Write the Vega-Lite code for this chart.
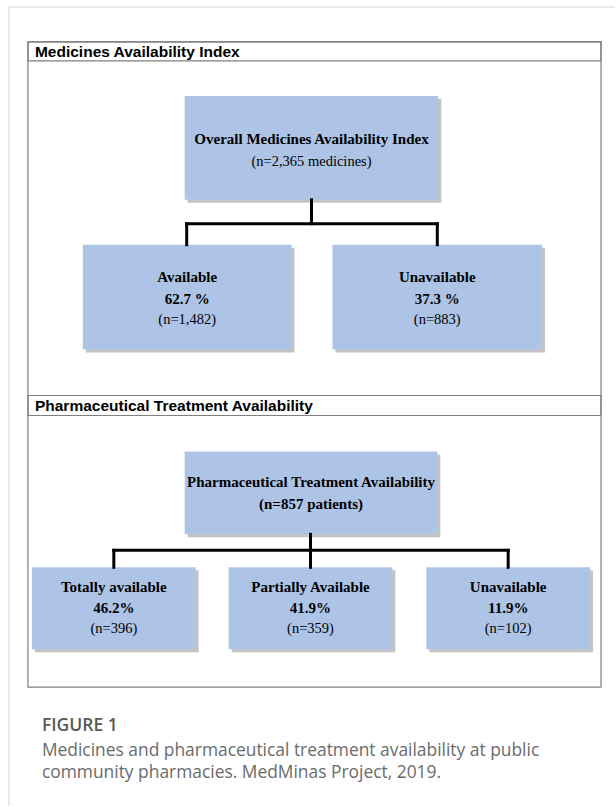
{
  "$schema": "https://vega.github.io/schema/vega-lite/v6.json",
  "width": 616,
  "height": 807,
  "autosize": {"type": "fit", "contains": "padding"},
  "padding": 0,
  "background": "white",
  "view": {"stroke": null},
  "datasets": {
    "frame": [
      {"x": 9, "y": 7, "x2": 616, "y2": 7},
      {"x": 9, "y": 7, "x2": 9, "y2": 807}
    ],
    "panels": [
      {"panel": "Medicines Availability Index", "part": "body", "x": 28, "x2": 602, "y": 42, "y2": 396},
      {"panel": "Medicines Availability Index", "part": "header", "x": 28, "x2": 602, "y": 42, "y2": 61},
      {"panel": "Pharmaceutical Treatment Availability", "part": "body", "x": 28, "x2": 602, "y": 396, "y2": 688},
      {"panel": "Pharmaceutical Treatment Availability", "part": "header", "x": 28, "x2": 602, "y": 396, "y2": 416}
    ],
    "nodes": [
      {"node": "Overall Medicines Availability Index", "x": 185, "x2": 439, "y": 96, "y2": 200},
      {"node": "Available", "x": 83, "x2": 292, "y": 245, "y2": 350},
      {"node": "Unavailable (medicines)", "x": 333, "x2": 543, "y": 245, "y2": 350},
      {"node": "Pharmaceutical Treatment Availability", "x": 185, "x2": 438, "y": 452, "y2": 535},
      {"node": "Totally available", "x": 32, "x2": 196, "y": 568, "y2": 650},
      {"node": "Partially Available", "x": 229, "x2": 393, "y": 568, "y2": 650},
      {"node": "Unavailable (treatment)", "x": 427, "x2": 591, "y": 568, "y2": 650}
    ],
    "links": [
      {"x": 312, "y": 200, "x2": 312, "y2": 224},
      {"x": 187, "y": 224, "x2": 438, "y2": 224},
      {"x": 187, "y": 224, "x2": 187, "y2": 245},
      {"x": 438, "y": 224, "x2": 438, "y2": 245},
      {"x": 311, "y": 535, "x2": 311, "y2": 568},
      {"x": 114, "y": 551, "x2": 509, "y2": 551},
      {"x": 114, "y": 551, "x2": 114, "y2": 568},
      {"x": 509, "y": 551, "x2": 509, "y2": 568}
    ],
    "texts": [
      {"role": "header", "text": "Medicines Availability Index", "x": 35, "y": 52},
      {"role": "header", "text": "Pharmaceutical Treatment Availability", "x": 35, "y": 406.5},
      {"role": "name", "text": "Overall Medicines Availability Index", "x": 312, "y": 139},
      {"role": "count", "text": "(n=2,365 medicines)", "x": 312, "y": 162},
      {"role": "name", "text": "Available", "x": 187.5, "y": 277},
      {"role": "name", "text": "62.7 %", "x": 187.5, "y": 299},
      {"role": "count", "text": "(n=1,482)", "x": 187.5, "y": 320},
      {"role": "name", "text": "Unavailable", "x": 438, "y": 277},
      {"role": "name", "text": "37.3 %", "x": 438, "y": 299},
      {"role": "count", "text": "(n=883)", "x": 438, "y": 320},
      {"role": "name", "text": "Pharmaceutical Treatment Availability", "x": 311.5, "y": 483},
      {"role": "name", "text": "(n=857 patients)", "x": 311.5, "y": 505},
      {"role": "name", "text": "Totally available", "x": 114, "y": 588},
      {"role": "name", "text": "46.2%", "x": 114, "y": 609},
      {"role": "count", "text": "(n=396)", "x": 114, "y": 630},
      {"role": "name", "text": "Partially Available", "x": 311, "y": 588},
      {"role": "name", "text": "41.9%", "x": 311, "y": 609},
      {"role": "count", "text": "(n=359)", "x": 311, "y": 630},
      {"role": "name", "text": "Unavailable", "x": 509, "y": 588},
      {"role": "name", "text": "11.9%", "x": 509, "y": 609},
      {"role": "count", "text": "(n=102)", "x": 509, "y": 630},
      {"role": "figure", "text": "FIGURE 1", "x": 42, "y": 727},
      {"role": "caption", "text": "Medicines and pharmaceutical treatment availability at public", "x": 42, "y": 752},
      {"role": "caption", "text": "community pharmacies. MedMinas Project, 2019.", "x": 42, "y": 774}
    ]
  },
  "encoding": {
    "x": {"field": "x", "type": "quantitative", "scale": {"domain": [0, 616], "nice": false, "zero": false}, "axis": null},
    "y": {"field": "y", "type": "quantitative", "scale": {"domain": [0, 807], "reverse": true, "nice": false, "zero": false}, "axis": null}
  },
  "layer": [
    {
      "data": {"name": "frame"},
      "mark": {"type": "rule", "color": "#d2d2d2", "strokeWidth": 1},
      "encoding": {"x2": {"field": "x2"}, "y2": {"field": "y2"}}
    },
    {
      "data": {"name": "panels"},
      "mark": {"type": "rect", "fill": "white", "fillOpacity": 0, "stroke": "#7f7f7f", "strokeWidth": 1.2},
      "encoding": {"x2": {"field": "x2"}, "y2": {"field": "y2"}}
    },
    {
      "data": {"name": "nodes"},
      "mark": {"type": "rect", "fill": "#8a8a8a", "opacity": 0.5, "xOffset": 3, "x2Offset": 3, "yOffset": 3, "y2Offset": 3},
      "encoding": {"x2": {"field": "x2"}, "y2": {"field": "y2"}}
    },
    {
      "data": {"name": "nodes"},
      "mark": {"type": "rect", "fill": "#aec4e7"},
      "encoding": {"x2": {"field": "x2"}, "y2": {"field": "y2"}}
    },
    {
      "data": {"name": "links"},
      "mark": {"type": "rule", "color": "#000000", "strokeWidth": 3, "strokeCap": "square"},
      "encoding": {"x2": {"field": "x2"}, "y2": {"field": "y2"}}
    },
    {
      "data": {"name": "texts"},
      "transform": [{"filter": "datum.role === 'header'"}],
      "mark": {"type": "text", "align": "left", "baseline": "middle", "font": "Liberation Sans", "fontSize": 15.5, "fontWeight": "bold", "color": "#000000"},
      "encoding": {"text": {"field": "text"}}
    },
    {
      "data": {"name": "texts"},
      "transform": [{"filter": "datum.role === 'name'"}],
      "mark": {"type": "text", "align": "center", "baseline": "middle", "font": "Liberation Serif", "fontSize": 15, "fontWeight": "bold", "color": "#000000"},
      "encoding": {"text": {"field": "text"}}
    },
    {
      "data": {"name": "texts"},
      "transform": [{"filter": "datum.role === 'count'"}],
      "mark": {"type": "text", "align": "center", "baseline": "middle", "font": "Liberation Serif", "fontSize": 14.5, "fontWeight": "normal", "color": "#000000"},
      "encoding": {"text": {"field": "text"}}
    },
    {
      "data": {"name": "texts"},
      "transform": [{"filter": "datum.role === 'figure'"}],
      "mark": {"type": "text", "align": "left", "baseline": "middle", "font": "Open Sans", "fontSize": 17.5, "fontWeight": 600, "color": "#595959"},
      "encoding": {"text": {"field": "text"}}
    },
    {
      "data": {"name": "texts"},
      "transform": [{"filter": "datum.role === 'caption'"}],
      "mark": {"type": "text", "align": "left", "baseline": "middle", "font": "Open Sans", "fontSize": 17.4, "fontWeight": "normal", "color": "#6b6b6b"},
      "encoding": {"text": {"field": "text"}}
    }
  ]
}
